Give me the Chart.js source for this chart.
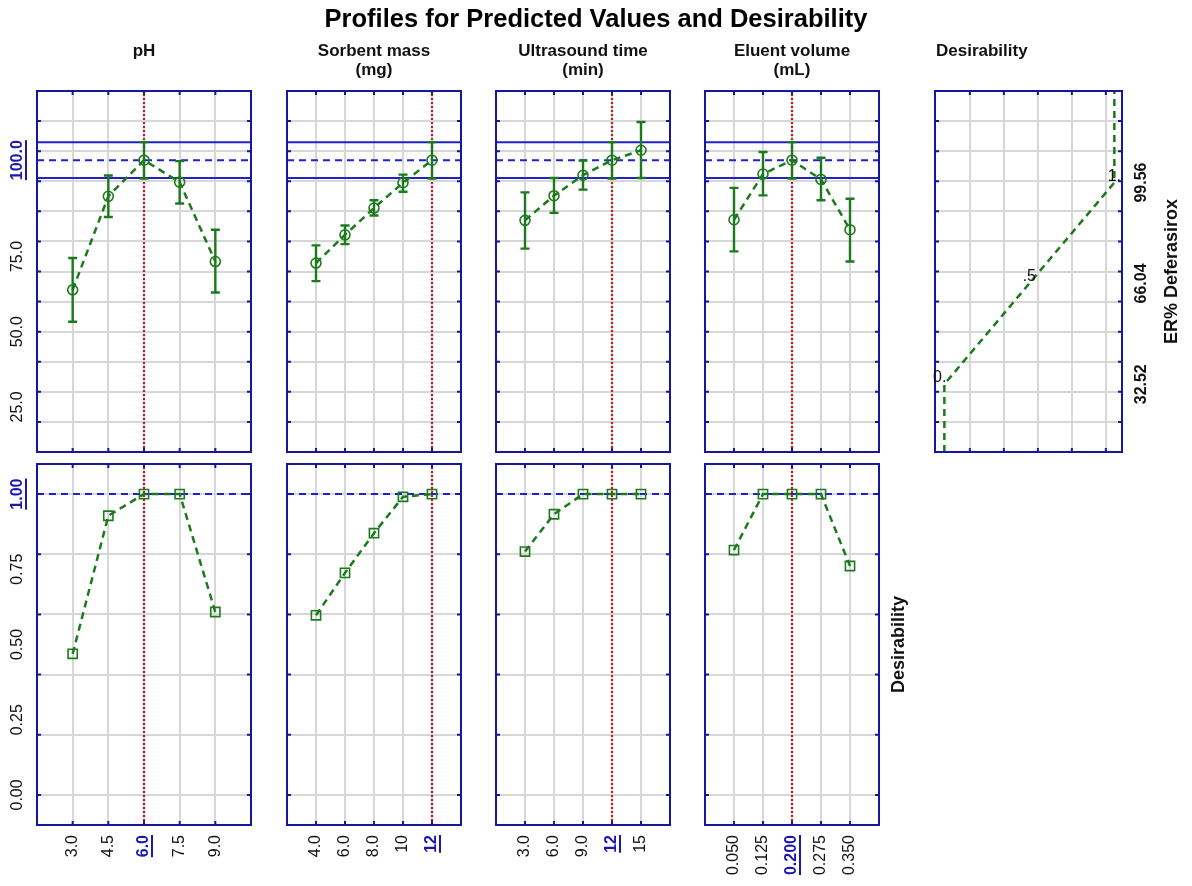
<!DOCTYPE html>
<html>
<head>
<meta charset="utf-8">
<script src="https://cdn.jsdelivr.net/npm/chart.js@4.4.1/dist/chart.umd.min.js"></script>
<style>
  html, body { margin: 0; padding: 0; background: #ffffff; }
  #wrap { position: relative; width: 1192px; height: 886px; overflow: hidden; }
  #wrap canvas { position: absolute; left: 0; top: 0; }
</style>
</head>
<body>
<div id="wrap"></div>
<script>
// ---- factor levels and tick labels ----
const phLevels = [3.0, 4.5, 6.0, 7.5, 9.0];
const massLevels = [4, 6, 8, 10, 12];
const timeLevels = [3, 6, 9, 12, 15];
const volumeLevels = [0.05, 0.125, 0.2, 0.275, 0.35];

const phLabels = ['3.0', '4.5', '6.0', '7.5', '9.0'];
const massLabels = ['4.0', '6.0', '8.0', '10', '12'];
const timeLabels = ['3.0', '6.0', '9.0', '12', '15'];
const volumeLabels = ['0.050', '0.125', '0.200', '0.275', '0.350'];

// current factor settings
const phCurrent = 6.0;
const massCurrent = 12;
const timeCurrent = 12;
const volumeCurrent = 0.2;

// ---- predicted ER% (mean, lower and upper confidence limits) ----
const phER = [63.9, 95.0, 107.0, 99.7, 73.3];
const phERLow = [53.3, 88.1, 100.9, 92.6, 63.0];
const phERHigh = [74.5, 101.9, 113.0, 106.7, 83.9];

const massER = [72.8, 82.2, 91.1, 99.5, 107.0];
const massERLow = [66.8, 79.1, 88.6, 96.5, 100.9];
const massERHigh = [78.7, 85.3, 93.7, 102.2, 113.0];

const timeER = [87.0, 95.2, 102.0, 107.0, 110.3];
const timeERLow = [77.6, 89.5, 97.2, 100.9, 101.1];
const timeERHigh = [96.3, 101.1, 106.9, 113.0, 119.7];

const volumeER = [87.2, 102.4, 107.0, 100.6, 83.9];
const volumeERLow = [76.7, 95.3, 100.9, 93.7, 73.3];
const volumeERHigh = [97.8, 109.7, 113.0, 107.8, 94.2];

// predicted response at the current settings and its confidence band
const predictedER = 107.0;
const predictedLow = 101.1;
const predictedHigh = 113.0;
const predictedLabel = '100.0';

// ---- desirability of each profile point ----
const phDesir = [0.469, 0.928, 1.0, 1.0, 0.608];
const massDesir = [0.597, 0.738, 0.870, 0.991, 1.0];
const timeDesir = [0.809, 0.933, 1.0, 1.0, 1.0];
const volumeDesir = [0.814, 1.0, 1.0, 1.0, 0.761];
const overallDesir = 1.0;
const overallDesirLabel = '1.00';

// ---- desirability function of ER% ----
const desirFnER = [10, 32.52, 66.04, 99.56, 130];
const desirFnD = [0, 0, 0.5, 1, 1];
const desirKnotER = [32.52, 66.04, 99.56];
const desirKnotD = [0, 0.5, 1];
const desirKnotText = ['0.', '.5', '1.'];
const desirKnotAxisText = ['32.52', '66.04', '99.56'];

// ---- axis tick labels ----
const erTickValues = [25, 50, 75];
const erTickLabels = ['25.0', '50.0', '75.0'];
const dTickValues = [0, 0.25, 0.5, 0.75];
const dTickLabels = ['0.00', '0.25', '0.50', '0.75'];
const erGrid = [20, 30, 40, 50, 60, 70, 80, 90, 100, 110, 120];
const dGrid = [0, 0.2, 0.4, 0.6, 0.8, 1.0];
const desirColGrid = [0.15, 0.35, 0.55, 0.75, 0.95];

// ---- styling ----
const W = 1192, H = 886;
const FONT = "'Liberation Sans', Arial, Helvetica, sans-serif";
const GRID = '#d7d7d7';
const FRAME = '#17179c';
const BLUE = '#2020cc';
const RED = '#d21818';
const GREEN = '#1c7a1c';
const CUR_BLUE = '#1818b0';
const TEXT = '#111111';

// panel rectangles
const topRow = { t: 91, b: 452 };
const botRow = { t: 464, b: 825 };
const cols = [
  { l: 37, r: 251 },
  { l: 287, r: 461 },
  { l: 496, r: 670 },
  { l: 705, r: 879 }
];
const desirCol = { l: 935, r: 1122 };

const factors = [
  { levels: phLevels, labels: phLabels, cur: phCurrent, min: 1.5, max: 10.5,
    er: phER, lo: phERLow, hi: phERHigh, d: phDesir },
  { levels: massLevels, labels: massLabels, cur: massCurrent, min: 2, max: 14,
    er: massER, lo: massERLow, hi: massERHigh, d: massDesir },
  { levels: timeLevels, labels: timeLabels, cur: timeCurrent, min: 0, max: 18,
    er: timeER, lo: timeERLow, hi: timeERHigh, d: timeDesir },
  { levels: volumeLevels, labels: volumeLabels, cur: volumeCurrent, min: -0.025, max: 0.425,
    er: volumeER, lo: volumeERLow, hi: volumeERHigh, d: volumeDesir }
];

const wrap = document.getElementById('wrap');

// text turned to read bottom-to-top; underline sits on the right-hand side
function rotText(ctx, text, x, y, opt) {
  ctx.save();
  ctx.translate(x, y);
  ctx.rotate(-Math.PI / 2);
  ctx.font = opt.font;
  ctx.fillStyle = opt.color || TEXT;
  ctx.textAlign = opt.align || 'center';
  ctx.textBaseline = 'middle';
  ctx.fillText(text, 0, 0);
  if (opt.underline) {
    const w = ctx.measureText(text).width;
    let x0 = -w / 2;
    if (opt.align === 'right') x0 = -w;
    if (opt.align === 'left') x0 = 0;
    ctx.fillRect(x0, opt.size * 0.5 - 1, w, 2);
  }
  ctx.restore();
}

function hText(ctx, text, x, y, font, align, color) {
  ctx.save();
  ctx.font = font;
  ctx.fillStyle = color || TEXT;
  ctx.textAlign = align || 'center';
  ctx.textBaseline = 'alphabetic';
  ctx.fillText(text, x, y);
  ctx.restore();
}

// panel frame with inward tick marks at every grid line
const framePlugin = {
  id: 'panelFrame',
  afterDatasetsDraw(chart) {
    const { ctx, chartArea: a, scales } = chart;
    ctx.save();
    ctx.strokeStyle = FRAME;
    ctx.lineWidth = 2;
    ctx.strokeRect(a.left, a.top, a.right - a.left, a.bottom - a.top);
    const tl = 4;
    ctx.beginPath();
    scales.x.ticks.forEach(t => {
      const px = scales.x.getPixelForValue(t.value);
      ctx.moveTo(px, a.top); ctx.lineTo(px, a.top + tl);
      ctx.moveTo(px, a.bottom); ctx.lineTo(px, a.bottom - tl);
    });
    scales.y.ticks.forEach(t => {
      const py = scales.y.getPixelForValue(t.value);
      ctx.moveTo(a.left, py); ctx.lineTo(a.left + tl, py);
      ctx.moveTo(a.right, py); ctx.lineTo(a.right - tl, py);
    });
    ctx.stroke();
    ctx.restore();
  }
};

// confidence limits drawn as capped vertical bars
function errorBarPlugin(f) {
  return {
    id: 'errorBars',
    afterDatasetsDraw(chart) {
      const { ctx, scales } = chart;
      ctx.save();
      ctx.strokeStyle = GREEN;
      ctx.lineWidth = 2.4;
      ctx.beginPath();
      f.levels.forEach((lv, i) => {
        const px = scales.x.getPixelForValue(lv);
        const pl = scales.y.getPixelForValue(f.lo[i]);
        const ph = scales.y.getPixelForValue(f.hi[i]);
        ctx.moveTo(px, pl); ctx.lineTo(px, ph);
        ctx.moveTo(px - 4.5, pl); ctx.lineTo(px + 4.5, pl);
        ctx.moveTo(px - 4.5, ph); ctx.lineTo(px + 4.5, ph);
      });
      ctx.stroke();
      ctx.restore();
    }
  };
}

function line(points, color, width, dash, order) {
  return {
    data: points, showLine: true, borderColor: color, borderWidth: width,
    borderDash: dash, pointRadius: 0, fill: false, order: order
  };
}

function makeChart(rect, xCfg, yCfg, datasets, plugins) {
  const c = document.createElement('canvas');
  c.width = W; c.height = H;
  wrap.appendChild(c);
  const axis = (cfg) => ({
    type: 'linear', min: cfg.min, max: cfg.max,
    afterBuildTicks: s => { s.ticks = cfg.grid.map(v => ({ value: v })); },
    ticks: { display: false },
    grid: { color: GRID, lineWidth: 2, drawTicks: false },
    border: { display: false }
  });
  return new Chart(c, {
    type: 'scatter',
    data: { datasets },
    options: {
      responsive: false, animation: false, devicePixelRatio: 1,
      layout: { padding: { left: rect.l, top: rect.t, right: W - rect.r, bottom: H - rect.b } },
      plugins: { legend: { display: false }, tooltip: { enabled: false } },
      scales: { x: axis(xCfg), y: axis(yCfg) }
    },
    plugins: [framePlugin].concat(plugins)
  });
}

const erAxis = { min: 10, max: 130, grid: erGrid };
const dAxis = { min: -0.1, max: 1.1, grid: dGrid };

factors.forEach((f, k) => {
  const col = cols[k];
  const xCfg = { min: f.min, max: f.max, grid: f.levels };

  // ---- predicted ER% profile ----
  const topPlugins = [errorBarPlugin(f)];
  if (k === 0) {
    topPlugins.push({
      id: 'erLabels',
      afterDraw(chart) {
        const { ctx, scales } = chart;
        const ys = scales.y;
        erTickValues.forEach((v, i) => rotText(ctx, erTickLabels[i], 18, ys.getPixelForValue(v),
          { font: `16px ${FONT}`, size: 16 }));
        rotText(ctx, predictedLabel, 18, ys.getPixelForValue(predictedER),
          { font: `bold 16px ${FONT}`, size: 16, color: CUR_BLUE, underline: true });
        // figure title and column headers
        hText(ctx, 'Profiles for Predicted Values and Desirability', 596, 27, `bold 25.5px ${FONT}`, 'center', '#000');
        const hf = `bold 17px ${FONT}`;
        const cx = c => (c.l + c.r) / 2;
        hText(ctx, 'pH', cx(cols[0]), 56, hf);
        hText(ctx, 'Sorbent mass', cx(cols[1]), 56, hf);
        hText(ctx, '(mg)', cx(cols[1]), 75, hf);
        hText(ctx, 'Ultrasound time', cx(cols[2]), 56, hf);
        hText(ctx, '(min)', cx(cols[2]), 75, hf);
        hText(ctx, 'Eluent volume', cx(cols[3]), 56, hf);
        hText(ctx, '(mL)', cx(cols[3]), 75, hf);
        hText(ctx, 'Desirability', desirCol.l + 1, 56, hf, 'left');
      }
    });
  }
  makeChart({ l: col.l, r: col.r, t: topRow.t, b: topRow.b }, xCfg, erAxis, [
    {
      data: f.levels.map((x, i) => ({ x, y: f.er[i] })), showLine: true,
      borderColor: GREEN, borderWidth: 2.5, borderDash: [7, 5],
      pointStyle: 'circle', pointRadius: 5, pointBorderWidth: 1.6,
      pointBorderColor: GREEN, pointBackgroundColor: 'rgba(0,0,0,0)', order: 0
    },
    line([{ x: f.cur, y: erAxis.min }, { x: f.cur, y: erAxis.max }], RED, 2.2, [2, 2], 1),
    line([{ x: f.min, y: predictedHigh }, { x: f.max, y: predictedHigh }], BLUE, 2, [], 2),
    line([{ x: f.min, y: predictedLow }, { x: f.max, y: predictedLow }], BLUE, 2, [], 2),
    line([{ x: f.min, y: predictedER }, { x: f.max, y: predictedER }], BLUE, 2, [7, 5], 2)
  ], topPlugins);

  // ---- desirability profile ----
  const botPlugins = [{
    id: 'xLabels',
    afterDraw(chart) {
      const { ctx, scales, chartArea } = chart;
      f.levels.forEach((v, i) => {
        const isCur = v === f.cur;
        rotText(ctx, f.labels[i], scales.x.getPixelForValue(v), chartArea.bottom + 10, {
          font: `${isCur ? 'bold ' : ''}16px ${FONT}`, size: 16, align: 'right',
          color: isCur ? CUR_BLUE : TEXT, underline: isCur
        });
      });
      if (k === 0) {
        const ys = scales.y;
        dTickValues.forEach((v, i) => rotText(ctx, dTickLabels[i], 18, ys.getPixelForValue(v),
          { font: `16px ${FONT}`, size: 16 }));
        rotText(ctx, overallDesirLabel, 18, ys.getPixelForValue(overallDesir),
          { font: `bold 16px ${FONT}`, size: 16, color: CUR_BLUE, underline: true });
      }
      if (k === 3) {
        rotText(ctx, 'Desirability', 899, (botRow.t + botRow.b) / 2,
          { font: `bold 18px ${FONT}`, size: 18 });
      }
    }
  }];
  makeChart({ l: col.l, r: col.r, t: botRow.t, b: botRow.b }, xCfg, dAxis, [
    {
      data: f.levels.map((x, i) => ({ x, y: f.d[i] })), showLine: true,
      borderColor: GREEN, borderWidth: 2.5, borderDash: [7, 5],
      pointStyle: 'rect', pointRadius: 6.5, pointBorderWidth: 1.6,
      pointBorderColor: GREEN, pointBackgroundColor: 'rgba(0,0,0,0)', order: 0
    },
    line([{ x: f.cur, y: dAxis.min }, { x: f.cur, y: dAxis.max }], RED, 2.2, [2, 2], 1),
    line([{ x: f.min, y: overallDesir }, { x: f.max, y: overallDesir }], BLUE, 2, [7, 5], 2)
  ], botPlugins);
});

// ---- desirability function panel ----
makeChart({ l: desirCol.l, r: desirCol.r, t: topRow.t, b: topRow.b },
  { min: -0.055, max: 1.045, grid: desirColGrid }, erAxis, [
    line(desirFnD.map((d, i) => ({ x: d, y: desirFnER[i] })), GREEN, 2.5, [7, 5], 0)
  ], [{
    id: 'desirLabels',
    afterDraw(chart) {
      const { ctx, scales } = chart;
      desirKnotD.forEach((d, i) => {
        const px = scales.x.getPixelForValue(d);
        const py = scales.y.getPixelForValue(desirKnotER[i]);
        hText(ctx, desirKnotText[i], px + (i === 0 ? 2 : 0), py - 2, `16px ${FONT}`,
          i === 0 ? 'right' : 'center');
        rotText(ctx, desirKnotAxisText[i], 1142, py, { font: `bold 16px ${FONT}`, size: 16 });
      });
      rotText(ctx, 'ER% Deferasirox', 1172, (topRow.t + topRow.b) / 2,
        { font: `bold 18px ${FONT}`, size: 18 });
    }
  }]);
</script>
</body>
</html>
